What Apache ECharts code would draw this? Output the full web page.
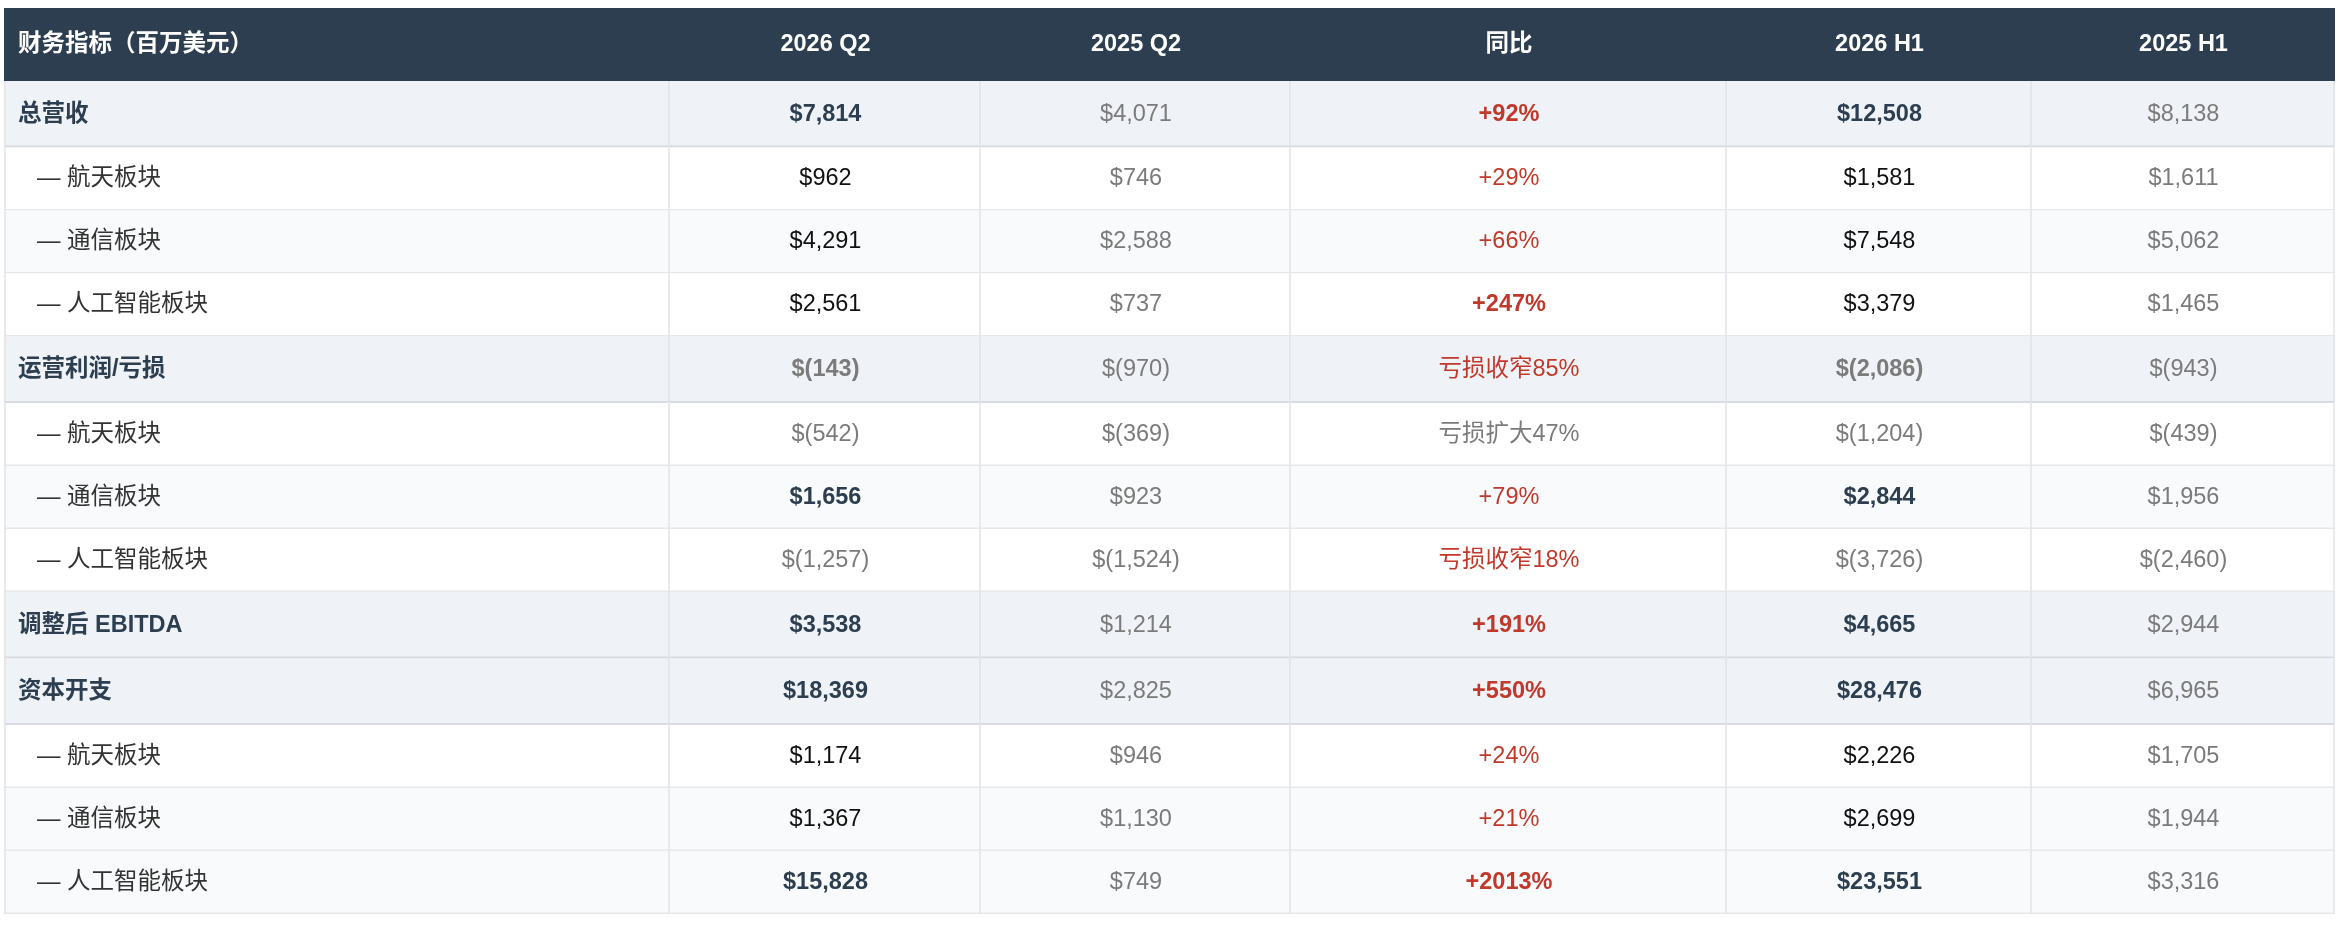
<!DOCTYPE html>
<html>
<head>
<meta charset="utf-8">
<title>财务指标</title>
<script src="https://cdn.jsdelivr.net/npm/echarts@6/dist/echarts.min.js"></script>
<style>
    html, body { margin: 0; padding: 0; background: #ffffff; }
    .table_chart { width: 2338px; height: 928px; }
</style>
</head>
<body>
<div class="table_chart"></div>
<script>
// 表头
var columns = ['财务指标（百万美元）', '2026 Q2', '2025 Q2', '同比', '2026 H1', '2025 H1'];
// 指标名称
var metrics = ['总营收', '— 航天板块', '— 通信板块', '— 人工智能板块',
    '运营利润/亏损', '— 航天板块', '— 通信板块', '— 人工智能板块',
    '调整后 EBITDA', '资本开支', '— 航天板块', '— 通信板块', '— 人工智能板块'];
// 0 = 合计行, 1 = 分部行
var rowLevel = [0, 1, 1, 1, 0, 1, 1, 1, 0, 0, 1, 1, 1];
// 各期数值（负数 = 亏损）
var q2_2026 = [7814, 962, 4291, 2561, -143, -542, 1656, -1257, 3538, 18369, 1174, 1367, 15828];
var q2_2025 = [4071, 746, 2588, 737, -970, -369, 923, -1524, 1214, 2825, 946, 1130, 749];
var yoy = ['+92%', '+29%', '+66%', '+247%', '亏损收窄85%', '亏损扩大47%', '+79%', '亏损收窄18%',
    '+191%', '+550%', '+24%', '+21%', '+2013%'];
var h1_2026 = [12508, 1581, 7548, 3379, -2086, -1204, 2844, -3726, 4665, 28476, 2226, 2699, 23551];
var h1_2025 = [8138, 1611, 5062, 1465, -943, -439, 1956, -2460, 2944, 6965, 1705, 1944, 3316];
// 分部行中需要加粗显示的行
var highlightRows = [6, 12];

var chart = echarts.init(document.querySelector('.table_chart'));

// 布局：列宽、行高
var colWidths = [666, 311, 310, 436, 305, 303];
var headerHeight = 73;
var rowHeights = rowLevel.map(function (l) { return l === 0 ? 66.5 : 63; });

var colEdges = [0];
colWidths.forEach(function (w, i) { colEdges.push(colEdges[i] + w); });
var rowEdges = [0, headerHeight];
rowHeights.forEach(function (h, i) { rowEdges.push(rowEdges[i + 1] + h); });

var NAVY = '#2c3e50', GRAY = '#7b7b7b', RED = '#c0392b', BLACK = '#111111';
var FONT = '"Liberation Sans", "Noto Sans CJK SC", sans-serif';
var FONT_SIZE = 23.5;

function money(v) {
    var s = Math.abs(v).toLocaleString('en-US');
    return v < 0 ? '$(' + s + ')' : '$' + s;
}

// 单元格文字和样式
function cellText(c, r) {
    if (r < 0) return { text: columns[c], fill: '#ffffff', bold: true };
    var total = rowLevel[r] === 0;
    if (c === 0) return { text: metrics[r], fill: total ? NAVY : '#333333', bold: total };
    if (c === 3) {
        var t = yoy[r];
        if (t.indexOf('扩大') >= 0) return { text: t, fill: GRAY, bold: false };
        var plus = t.charAt(0) === '+';
        return { text: t, fill: RED, bold: plus && (total || parseInt(t.slice(1)) > 100) };
    }
    var v = [null, q2_2026, q2_2025, null, h1_2026, h1_2025][c][r];
    if (c === 2 || c === 5) return { text: money(v), fill: GRAY, bold: false };
    if (v < 0) return { text: money(v), fill: GRAY, bold: total };
    if (total || highlightRows.indexOf(r) >= 0) return { text: money(v), fill: NAVY, bold: true };
    return { text: money(v), fill: BLACK, bold: false };
}

function cellFill(r) {
    if (r < 0) return NAVY;
    if (rowLevel[r] === 0) return '#eff2f6';
    // 分部行中的第二行浅灰
    return (r > 0 && rowLevel[r - 1] === 1 && (r + 1 >= rowLevel.length || rowLevel[r + 1] === 1)) ? '#f9fafb' : '#ffffff';
}

var cells = [];
for (var r = -1; r < metrics.length; r++) {
    for (var c = 0; c < columns.length; c++) cells.push([c, r]);
}

function renderItem(params, api) {
    var c = api.value(0), r = api.value(1);
    var tl = api.coord([colEdges[c], rowEdges[r + 1]]);
    var br = api.coord([colEdges[c + 1], rowEdges[r + 2]]);
    var w = br[0] - tl[0], h = br[1] - tl[1];
    var children = [{
        type: 'rect',
        shape: { x: tl[0], y: tl[1], width: w, height: h },
        style: { fill: cellFill(r) }
    }];
    if (r >= 0) {
        var total = rowLevel[r] === 0;
        var bw = total ? 2 : 1.5;
        children.push({
            type: 'line',
            shape: { x1: tl[0], y1: br[1] - bw / 2, x2: br[0], y2: br[1] - bw / 2 },
            style: { stroke: total ? '#d8dce2' : '#e6e8ec', lineWidth: bw }
        });
        children.push({
            type: 'line',
            shape: { x1: br[0] - 1, y1: tl[1], x2: br[0] - 1, y2: br[1] },
            style: { stroke: '#e1e4e8', lineWidth: 1.5 }
        });
        if (c === 0) {
            children.push({
                type: 'line',
                shape: { x1: tl[0] + 1, y1: tl[1], x2: tl[0] + 1, y2: br[1] },
                style: { stroke: '#e1e4e8', lineWidth: 1.5 }
            });
        }
    }
    var t = cellText(c, r);
    var left = c === 0;
    var pad = (r >= 0 && rowLevel[r] === 1) ? 33 : 14;
    children.push({
        type: 'text',
        style: {
            text: t.text,
            x: left ? tl[0] + pad : tl[0] + w / 2,
            y: tl[1] + h / 2,
            align: left ? 'left' : 'center',
            verticalAlign: 'middle',
            fill: t.fill,
            fontSize: FONT_SIZE,
            fontWeight: t.bold ? 'bold' : 'normal',
            fontFamily: FONT
        }
    });
    return { type: 'group', children: children };
}

var option = {
    animation: false,
    grid: { left: 4, top: 8, width: colEdges[colEdges.length - 1], height: rowEdges[rowEdges.length - 1] },
    xAxis: { type: 'value', min: 0, max: colEdges[colEdges.length - 1], show: false },
    yAxis: { type: 'value', min: 0, max: rowEdges[rowEdges.length - 1], inverse: true, show: false },
    series: [{
        type: 'custom',
        renderItem: renderItem,
        clip: false,
        encode: { x: 0, y: 1 },
        data: cells
    }]
};

chart.setOption(option);
</script>
</body>
</html>
